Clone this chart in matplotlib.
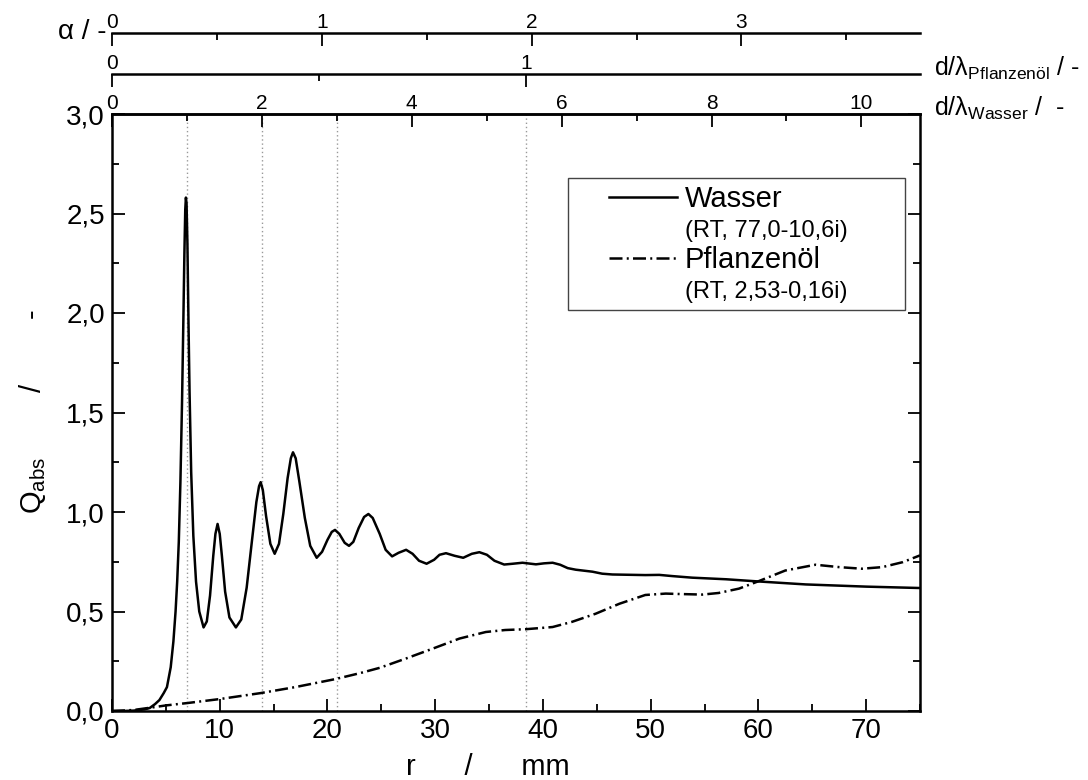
import numpy as np
import matplotlib
matplotlib.use("Agg")
import matplotlib.pyplot as plt
from matplotlib.lines import Line2D
from matplotlib.legend_handler import HandlerLine2D
from matplotlib.ticker import MultipleLocator, FixedLocator, FuncFormatter

plt.rcParams['font.family'] = ['Liberation Sans', 'DejaVu Sans']
plt.rcParams['mathtext.fontset'] = 'custom'
plt.rcParams['mathtext.rm'] = 'Liberation Sans'
plt.rcParams['mathtext.it'] = 'Liberation Sans:italic'
plt.rcParams['mathtext.bf'] = 'Liberation Sans:bold'

# material data (from the legend) and microwave frequency
freq_ghz = 2.45
eps_water = 77.0 - 10.6j
eps_oil = 2.53 - 0.16j

# Wasser: radius r (mm) and Q_abs
r_water = [0, 1, 2, 3, 3.5, 4, 4.4, 4.8, 5.1, 5.45,
           5.7, 5.9, 6.05, 6.2, 6.35, 6.5, 6.62, 6.72, 6.8, 6.86,
           6.92, 7.0, 7.1, 7.2, 7.35, 7.55, 7.8, 8.1, 8.5, 8.8,
           9.1, 9.4, 9.6, 9.8, 10.0, 10.2, 10.5, 10.9, 11.5, 12.0,
           12.5, 13.0, 13.4, 13.65, 13.8, 14.0, 14.3, 14.7, 15.1, 15.5,
           15.9, 16.3, 16.6, 16.8, 17.05, 17.4, 17.9, 18.4, 19.0, 19.5,
           20.0, 20.4, 20.7, 21.1, 21.6, 22.0, 22.4, 22.9, 23.4, 23.8,
           24.2, 24.85, 25.4, 26.0, 26.6, 27.3, 27.9, 28.5, 29.2, 29.9,
           30.4, 31.0, 31.8, 32.6, 33.4, 34.1, 34.8, 35.5, 36.4, 37.2,
           38.1, 39.35, 40.1, 40.9, 41.6, 42.3, 43.05, 44.6, 45.5, 46.45,
           49.5, 50.8, 52.0, 53.85, 57.0, 60.0, 64.4, 70.0, 75.0]
q_water = [0, 0, 0.002, 0.008, 0.015, 0.035, 0.055, 0.09, 0.12, 0.22,
           0.35, 0.5, 0.65, 0.85, 1.15, 1.55, 1.95, 2.3, 2.52, 2.58,
           2.55, 2.35, 1.95, 1.6, 1.2, 0.88, 0.65, 0.5, 0.42, 0.45,
           0.58, 0.78, 0.89, 0.94, 0.89, 0.78, 0.6, 0.47, 0.42, 0.46,
           0.62, 0.86, 1.05, 1.13, 1.15, 1.11, 0.98, 0.84, 0.79, 0.84,
           0.99, 1.17, 1.27, 1.30, 1.27, 1.15, 0.97, 0.83, 0.77, 0.8,
           0.86, 0.9, 0.91, 0.89, 0.845, 0.83, 0.85, 0.92, 0.975, 0.99,
           0.97, 0.89, 0.81, 0.777, 0.795, 0.81, 0.79, 0.755, 0.74, 0.76,
           0.785, 0.793, 0.78, 0.77, 0.79, 0.798, 0.785, 0.755, 0.736, 0.74,
           0.745, 0.737, 0.742, 0.745, 0.735, 0.718, 0.71, 0.70, 0.69, 0.686,
           0.683, 0.684, 0.678, 0.67, 0.662, 0.651, 0.636, 0.625, 0.618]

# Pflanzenoel
r_oil = [0, 2, 4, 5, 7, 10, 13.8, 17, 20.7, 23,
         24.85, 27.3, 29.8, 32.25, 34.7, 36.5, 38.4, 40.9, 42.7, 44.9,
         47.1, 49.5, 51.4, 52.6, 54.8, 56.3, 58.2, 60.05, 62.5, 65.3,
         67.5, 69.6, 71.5, 73.4, 75]
q_oil = [0, 0.005, 0.02, 0.028, 0.04, 0.06, 0.09, 0.12, 0.16, 0.19,
         0.217, 0.264, 0.314, 0.364, 0.397, 0.407, 0.411, 0.422, 0.448, 0.489,
         0.539, 0.583, 0.59, 0.588, 0.585, 0.593, 0.615, 0.653, 0.706, 0.735,
         0.723, 0.715, 0.723, 0.748, 0.782]

# wavelengths in mm
lam0 = 299.792458 / freq_ghz
lam_water = lam0 / np.sqrt(eps_water).real
lam_oil = lam0 / np.sqrt(eps_oil).real

fig = plt.figure(figsize=(10.88, 7.8), dpi=100)
ax = fig.add_axes([112 / 1088, 69 / 780, 808 / 1088, 597 / 780])

dashdot = (0, (5.2, 1.7, 0.8, 1.7))
ax.plot(r_water, q_water, color='black', lw=1.8, label='Wasser')
ax.plot(r_oil, q_oil, color='black', lw=1.8, linestyle=dashdot, label='Pflanzenöl')

# resonance markers: d/lambda_Wasser = 1, 2, 3 and d/lambda_Pflanzenoel = 1
for r_mark in [lam_water / 2, lam_water, 1.5 * lam_water, lam_oil / 2]:
    ax.axvline(r_mark, color='#999999', lw=1.0, linestyle=(0, (1, 2)), zorder=0)

ax.set_xlim(0, 75)
ax.set_ylim(0, 3.0)
ax.xaxis.set_major_locator(MultipleLocator(10))
ax.xaxis.set_minor_locator(MultipleLocator(5))
ax.yaxis.set_major_locator(MultipleLocator(0.5))
ax.yaxis.set_minor_locator(MultipleLocator(0.25))
ax.yaxis.set_major_formatter(FuncFormatter(lambda v, p: f"{v:.1f}".replace('.', ',')))
ax.tick_params(which='both', direction='in', top=False, right=True, width=1.3)
ax.tick_params(which='major', length=9, labelsize=20, pad=5)
ax.tick_params(which='minor', length=5)
for sp in ax.spines.values():
    sp.set_linewidth(1.8)


def make_top(factor, loc, majors, minors):
    sec = ax.secondary_xaxis(loc, functions=(lambda r: r * factor, lambda v: v / factor))
    sec.xaxis.set_major_locator(FixedLocator(majors))
    sec.xaxis.set_minor_locator(FixedLocator(minors))
    sec.tick_params(which='both', direction='in', width=1.3, labelsize=15, pad=1)
    sec.tick_params(which='major', length=9)
    sec.tick_params(which='minor', length=5)
    sec.spines['top'].set_linewidth(1.8)
    return sec


make_top(2 / lam_water, 'top', [0, 2, 4, 6, 8, 10], [1, 3, 5, 7, 9])
make_top(2 / lam_oil, 1.067, [0, 1], [0.5])
make_top(2 * np.pi / lam0, 1.1357, [0, 1, 2, 3], [0.5, 1.5, 2.5, 3.5])

fig.text(106 / 1088, 1 - 32 / 780, 'α / -', ha='right', va='center', fontsize=20)
fig.text(934 / 1088, 1 - 68 / 780, 'd/λ$_{\\mathrm{Pflanzenöl}}$ / -', ha='left', va='center', fontsize=18)
fig.text(934 / 1088, 1 - 108 / 780, 'd/λ$_{\\mathrm{Wasser}}$ /  -', ha='left', va='center', fontsize=18)

fig.text(33 / 1088, 1 - 412 / 780, 'Q$_{\\mathrm{abs}}$        /        -', rotation=90,
         ha='center', va='center', fontsize=21)
fig.text(488 / 1088, 5 / 780, 'r      /      mm', ha='center', va='baseline', fontsize=21)


class ShiftedLine(HandlerLine2D):
    # draws the legend line only in the right part of the handle box
    def create_artists(self, legend, orig_handle, xdescent, ydescent,
                       width, height, fontsize, trans):
        shift = 0.33 * width
        return super().create_artists(legend, orig_handle, xdescent - shift, ydescent,
                                      width - shift, height, fontsize, trans)


blank = Line2D([], [], color='none')
handles = [ax.lines[0], blank, ax.lines[1], blank]
labels = ['Wasser', '(RT, 77,0-10,6i)', 'Pflanzenöl', '(RT, 2,53-0,16i)']
leg = ax.legend(handles, labels, loc='upper left', mode='expand',
                bbox_to_anchor=((568 - 112) / 808, 0.3, (905 - 568) / 808, (711 - 178) / 597 - 0.3),
                fontsize=21, handlelength=3.5, handletextpad=0.25, labelspacing=0.12,
                borderpad=0.25, borderaxespad=0, fancybox=False, framealpha=1,
                edgecolor='#444444', handler_map={Line2D: ShiftedLine()})
leg.get_frame().set_linewidth(1.0)
for t in leg.get_texts()[1::2]:
    t.set_fontsize(17)

fig.savefig('out.png', dpi=100)
